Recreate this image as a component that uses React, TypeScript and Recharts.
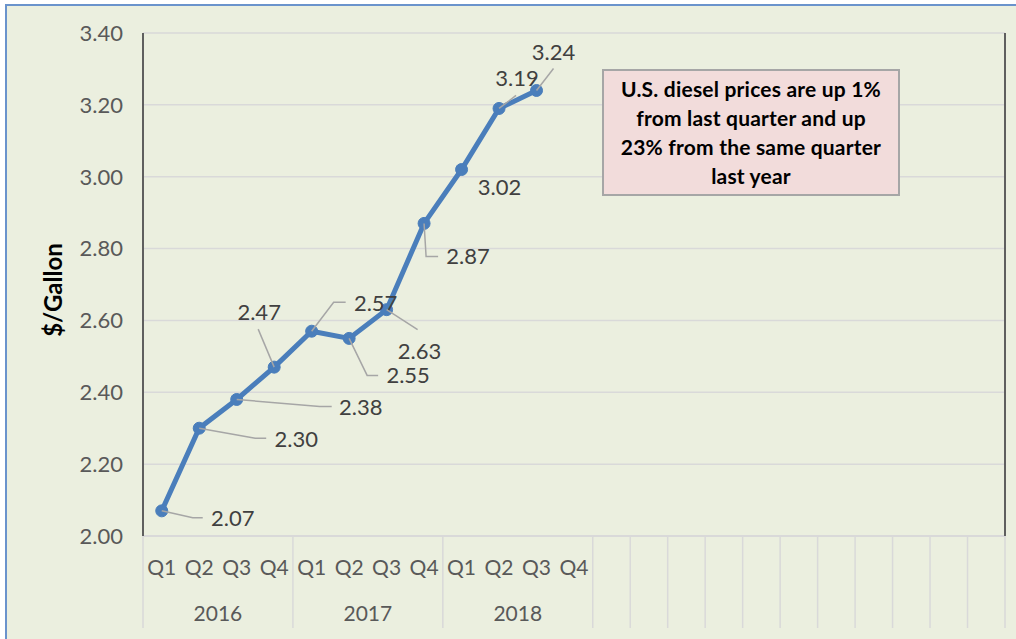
import { LineChart, Line, XAxis, YAxis, CartesianGrid } from 'recharts';

const years = ['2016', '2017', '2018'];
const quarters = ['Q1', 'Q2', 'Q3', 'Q4'];
const prices = [2.07, 2.3, 2.38, 2.47, 2.57, 2.55, 2.63, 2.87, 3.02, 3.19, 3.24];
const emptySlots = 11;
const yTicks = [2.0, 2.2, 2.4, 2.6, 2.8, 3.0, 3.2, 3.4];

// label text offset [dx, dy] from the point, plus leader line points (relative)
const labelLayout: { t: [number, number]; lead: [number, number][] }[] = [
  { t: [71, 7], lead: [[31, 7], [41, 7]] },
  { t: [97, 11], lead: [[56, 10], [67, 10]] },
  { t: [124, 8], lead: [[83, 7], [95, 7]] },
  { t: [-15, -55], lead: [[-16, -38]] },
  { t: [64, -28], lead: [[22, -29], [34, -29]] },
  { t: [59, 37], lead: [[18, 37], [29, 37]] },
  { t: [33, 41], lead: [[31, 20]] },
  { t: [44, 33], lead: [[2, 33], [14, 33]] },
  { t: [38, 18], lead: [] },
  { t: [18, -30], lead: [[17, -13]] },
  { t: [17, -38], lead: [[17, -22]] },
];

const quarterLabels = [...years.flatMap(() => quarters), ...Array(emptySlots).fill('')];
const data = quarterLabels.map((q, i) => ({
  key: i < 12 ? `${years[Math.floor(i / 4)]} ${q}` : `blank${i}`,
  price: i < prices.length ? prices[i] : null,
}));

const W = 1016;
const H = 639;
const M = { top: 33, right: 10, bottom: 11, left: 83 };
const Y_W = 60;
const X_H = 92;
const BAND = (W - M.left - M.right - Y_W - 1) / data.length;

const BLUE = '#4A7EBB';
const GRID = '#D9D9D9';
const FRAME = '#5F5F5F';
const FONT = 'Lato, sans-serif';

function CategoryTick(props: any) {
  const { x, y, index } = props;
  const half = BAND / 2;
  const yearIdx = Math.floor(index / 4);
  const sep = (sx: number, k: string) => (
    <line key={k} x1={sx} x2={sx} y1={y} y2={y + X_H} stroke={GRID} strokeWidth={1.5} />
  );
  return (
    <g>
      <text x={x} y={y + 39} textAnchor="middle" fontSize={21} fontFamily={FONT} fill="#595959">
        {quarterLabels[index]}
      </text>
      {(index >= 12 || index % 4 === 0) && sep(x - half, 'l')}
      {index === data.length - 1 && sep(x + half, 'r')}
      {index < 12 && index % 4 === 1 && (
        <text x={x + half} y={y + 85} textAnchor="middle" fontSize={21} fontFamily={FONT} fill="#595959">
          {years[yearIdx]}
        </text>
      )}
    </g>
  );
}

function PriceLabel(props: any) {
  const { x, y, value, index } = props;
  const lay = labelLayout[index];
  if (value == null || !lay) return null;
  const pts = [[0, 0], ...lay.lead].map(([dx, dy]) => `${x + dx},${y + dy}`).join(' ');
  return (
    <g>
      {lay.lead.length > 0 && <polyline points={pts} fill="none" stroke="#A6A6A6" strokeWidth={1.5} />}
      <text
        x={x + lay.t[0]}
        y={y + lay.t[1]}
        dy="0.36em"
        textAnchor="middle"
        fontSize={22}
        fontFamily={FONT}
        fill="#404040"
      >
        {Number(value).toFixed(2)}
      </text>
    </g>
  );
}

export default function App() {
  return (
    <div style={{ position: 'fixed', left: 0, top: 0, width: W, height: H, overflow: 'hidden', background: '#fff' }}>
      <div
        style={{
          position: 'absolute', left: 5, top: 4, width: W + 20, height: H + 20,
          borderTop: '2px solid #6A93CC', borderLeft: '2px solid #6A93CC', background: '#EBEFDF',
        }}
      />
      <div style={{ position: 'absolute', left: 0, top: 0 }}>
        <LineChart width={W} height={H} data={data} margin={M}>
          <CartesianGrid vertical={false} stroke={GRID} strokeWidth={1.5} />
          <XAxis
            dataKey="key"
            height={X_H}
            interval={0}
            padding={{ left: BAND / 2, right: BAND / 2 }}
            tickLine={false}
            tickSize={0}
            tickMargin={0}
            axisLine={{ stroke: GRID, strokeWidth: 2 }}
            tick={<CategoryTick />}
          />
          <XAxis
            xAxisId="top"
            dataKey="key"
            orientation="top"
            height={0}
            tick={false}
            tickLine={false}
            axisLine={{ stroke: FRAME, strokeWidth: 2 }}
          />
          <YAxis
            width={Y_W}
            domain={[2, 3.4]}
            ticks={yTicks}
            tickFormatter={(v: number) => v.toFixed(2)}
            tickLine={false}
            tickSize={0}
            tickMargin={20}
            axisLine={{ stroke: FRAME, strokeWidth: 2 }}
            tick={{ fontSize: 22, fontFamily: FONT, fill: '#595959' }}
          />
          <YAxis
            yAxisId="right"
            orientation="right"
            width={1}
            domain={[2, 3.4]}
            tick={false}
            tickLine={false}
            axisLine={{ stroke: FRAME, strokeWidth: 2 }}
          />
          <Line
            type="linear"
            dataKey="price"
            stroke={BLUE}
            strokeWidth={5}
            dot={{ r: 6, fill: BLUE, stroke: BLUE, strokeWidth: 1 }}
            activeDot={false}
            label={(p: any) => <PriceLabel {...p} />}
            isAnimationActive={false}
          />
        </LineChart>
      </div>
      <div
        style={{
          position: 'absolute', left: 52, top: 290, transform: 'translate(-50%, -50%) rotate(-90deg)',
          fontFamily: FONT, fontWeight: 700, fontSize: 24, color: '#000', whiteSpace: 'nowrap',
        }}
      >
        $/Gallon
      </div>
      <div
        style={{
          position: 'absolute', left: 602, top: 69, width: 294, height: 120,
          background: '#F2DCDB', border: '2px solid #A6A6A6', fontFamily: FONT, fontWeight: 700,
          fontSize: 21, lineHeight: '29px', textAlign: 'center', color: '#000', paddingTop: 3,
          letterSpacing: 0.2,
        }}
      >
        U.S. diesel prices are up 1%<br />from last quarter and up<br />23% from the same quarter<br />last year
      </div>
    </div>
  );
}
